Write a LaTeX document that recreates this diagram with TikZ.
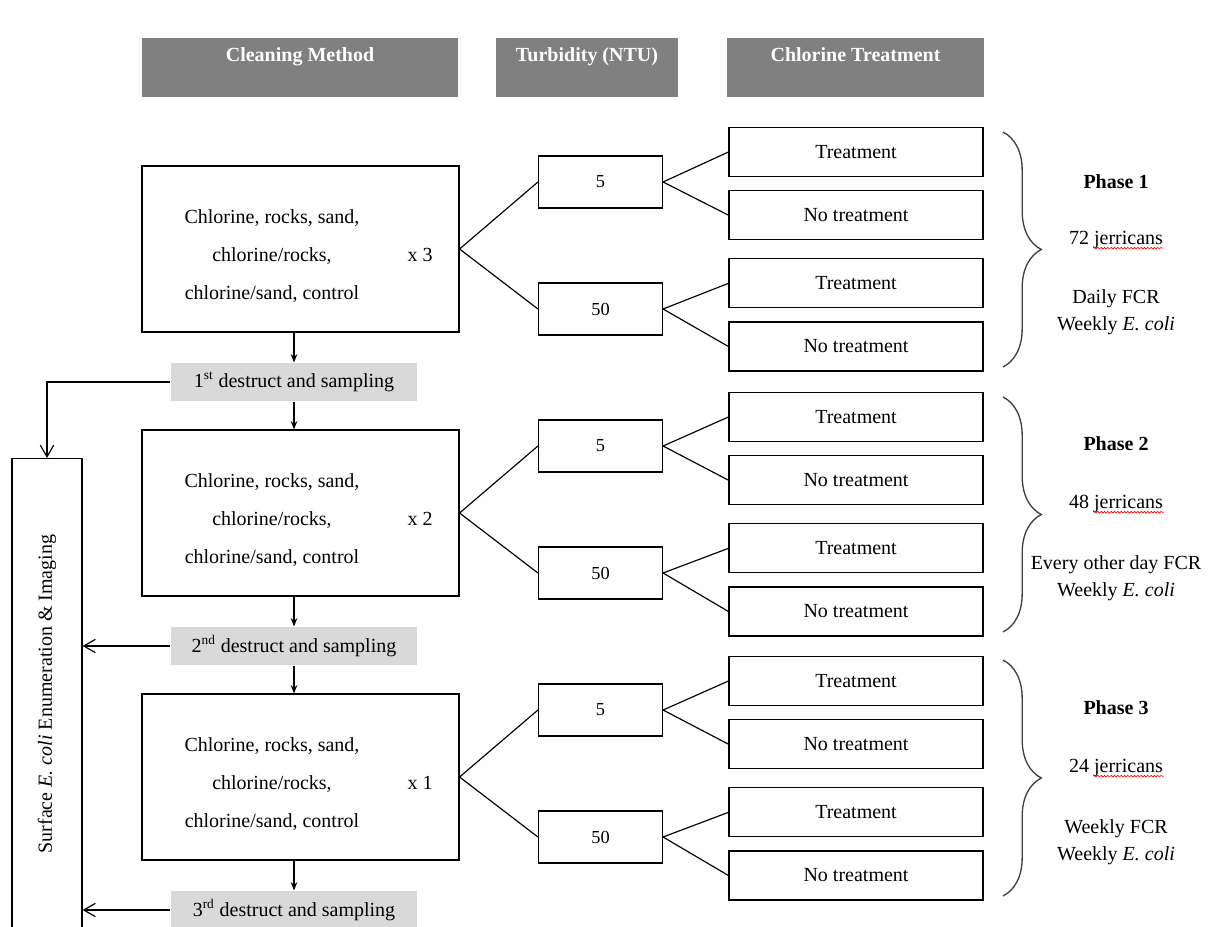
\documentclass[tikz,border=0pt]{standalone}
\usepackage{fontspec}
\setmainfont{Liberation Serif}
\usepackage{xcolor}
\usepackage{tikz}
\usetikzlibrary{positioning}
\usetikzlibrary{arrows.meta, decorations.pathreplacing, decorations.pathmorphing}
\definecolor{hdrgray}{RGB}{128,128,128}
\definecolor{destgray}{RGB}{217,217,217}
\tikzstyle{header} = [rectangle, fill=hdrgray, minimum height=35.4pt, inner sep=0pt]
\tikzstyle{headtext} = [text=white, text height=8.5pt, text depth=2.5pt, font=\fontsize{12}{14}\selectfont\bfseries]
\tikzstyle{method} = [rectangle, draw=black, minimum width=190.2pt, minimum height=99.6pt]
\tikzstyle{methodtext} = [align=center, font=\fontsize{12}{22.8}\selectfont]
\tikzstyle{turb} = [rectangle, draw=black, minimum width=74.4pt, minimum height=31.2pt, font=\fontsize{11}{13}\selectfont]
\tikzstyle{treat} = [rectangle, draw=black, minimum width=152.4pt, minimum height=29.4pt]
\tikzstyle{destruct} = [rectangle, fill=destgray, minimum width=147.6pt, minimum height=22.8pt]
\tikzstyle{phase} = [align=center, font=\fontsize{12}{16.2}\selectfont]
\tikzstyle{arrow} = [-{Stealth[length=5pt,width=4pt]}]
\tikzstyle{openarrow} = [-{Straight Barb[length=7pt,width=8pt]}]
\tikzstyle{bracket} = [decorate, decoration={brace, amplitude=23pt}, draw=black!75, line width=0.8pt]
\tikzstyle{spell} = [red, line width=0.4pt, decorate, decoration={snake, amplitude=0.5pt, segment length=2pt}]

\begin{document}
\begin{tikzpicture}[x=0.6pt, y=-0.6pt, line width=0.7pt, font=\fontsize{12}{14}\selectfont]
\useasboundingbox (0,0) rectangle (1224,926);
\clip (0,0) rectangle (1224,926);

% column headers
\node (h1) [header, minimum width=189.6pt] at (300,67.5) {};
\node (h2) [header, minimum width=109.2pt] at (587,67.5) {};
\node (h3) [header, minimum width=154.2pt] at (855.5,67.5) {};
\node (h1t) [headtext] at ([yshift=-11.4pt]h1.north) {Cleaning Method};
\node (h2t) [headtext] at ([yshift=-11.4pt]h2.north) {Turbidity (NTU)};
\node (h3t) [headtext] at ([yshift=-11.4pt]h3.north) {Chlorine Treatment};

% phase 1
\node (m1) [method] at (300.5,249) {};
\node (m1t) [methodtext] at (272,256) {Chlorine, rocks, sand,\\ chlorine/rocks,\\ chlorine/sand, control};
\node (m1x) at (420,255) {x 3};
\node (t1a) [turb] at (600.5,182) {5};
\node (t1b) [turb] at (600.5,309) {50};
\node (c1a) [treat] at (856,152) {Treatment};
\node (c1b) [treat, below=7.8pt of c1a] {No treatment};
\node (c1c) [treat, below=10.8pt of c1b] {Treatment};
\node (c1d) [treat, below=7.8pt of c1c] {No treatment};
\draw [bracket] (1003,132) -- (1003,367);
\node (p1) [phase] at (1116,182) {\textbf{Phase 1}};
\node (p1j) [phase] at (1116,240) {72 jerricans};
\node (p1f) [phase] at (1116,312) {Daily FCR\\ Weekly \textit{E. coli}};
\draw [spell] ([xshift=18.3pt, yshift=-2.2pt]p1j.base west) -- ([xshift=-3.3pt, yshift=-2.2pt]p1j.base east);

% phase 2
\node (m2) [method] at (300.5,513) {};
\node (m2t) [methodtext] at (272,520) {Chlorine, rocks, sand,\\ chlorine/rocks,\\ chlorine/sand, control};
\node (m2x) at (420,519) {x 2};
\node (t2a) [turb] at (600.5,446) {5};
\node (t2b) [turb] at (600.5,573) {50};
\node (c2a) [treat] at (856,417) {Treatment};
\node (c2b) [treat, below=7.8pt of c2a] {No treatment};
\node (c2c) [treat, below=10.8pt of c2b] {Treatment};
\node (c2d) [treat, below=7.8pt of c2c] {No treatment};
\draw [bracket] (1003,397) -- (1003,632);
\node (p2) [phase] at (1116,444) {\textbf{Phase 2}};
\node (p2j) [phase] at (1116,504) {48 jerricans};
\node (p2f) [phase] at (1116,578) {Every other day FCR\\ Weekly \textit{E. coli}};
\draw [spell] ([xshift=18.3pt, yshift=-2.2pt]p2j.base west) -- ([xshift=-3.3pt, yshift=-2.2pt]p2j.base east);

% phase 3
\node (m3) [method] at (300.5,777) {};
\node (m3t) [methodtext] at (272,784) {Chlorine, rocks, sand,\\ chlorine/rocks,\\ chlorine/sand, control};
\node (m3x) at (420,783) {x 1};
\node (t3a) [turb] at (600.5,710) {5};
\node (t3b) [turb] at (600.5,837) {50};
\node (c3a) [treat] at (856,681) {Treatment};
\node (c3b) [treat, below=7.8pt of c3a] {No treatment};
\node (c3c) [treat, below=10.8pt of c3b] {Treatment};
\node (c3d) [treat, below=7.8pt of c3c] {No treatment};
\draw [bracket] (1003,660) -- (1003,896);
\node (p3) [phase] at (1116,708) {\textbf{Phase 3}};
\node (p3j) [phase] at (1116,768) {24 jerricans};
\node (p3f) [phase] at (1116,842) {Weekly FCR\\ Weekly \textit{E. coli}};
\draw [spell] ([xshift=18.3pt, yshift=-2.2pt]p3j.base west) -- ([xshift=-3.3pt, yshift=-2.2pt]p3j.base east);

% destruct steps and surface box
\node (d1) [destruct] at (294,382) {1\textsuperscript{st} destruct and sampling};
\node (d2) [destruct] at (294,646) {2\textsuperscript{nd} destruct and sampling};
\node (d3) [destruct] at (294,910) {3\textsuperscript{rd} destruct and sampling};
\node (surf) [rectangle, draw=black, minimum width=42pt, minimum height=330pt, anchor=north] at (47,458) {};
\node (surft) [rotate=90] at (47,694) {Surface \textit{E. coli} Enumeration \& Imaging};

% connectors
\draw [arrow] (m1.south -| d1.north) -- (d1.north);
\draw [arrow] (d1.south) -- (d1.south |- m2.north);
\draw [arrow] (m2.south -| d2.north) -- (d2.north);
\draw [arrow] (d2.south) -- (d2.south |- m3.north);
\draw [arrow] (m3.south -| d3.north) -- (d3.north);
\draw [openarrow] (d1.west) -| (surf.north);
\draw [openarrow] (d2.west) -- (d2.west -| surf.east);
\draw [openarrow] (d3.west) -- (d3.west -| surf.east);

\draw (m1.east) -- (t1a.west);
\draw (m1.east) -- (t1b.west);
\draw (t1a.east) -- (c1a.west);
\draw (t1a.east) -- (c1b.west);
\draw (t1b.east) -- (c1c.west);
\draw (t1b.east) -- (c1d.west);
\draw (m2.east) -- (t2a.west);
\draw (m2.east) -- (t2b.west);
\draw (t2a.east) -- (c2a.west);
\draw (t2a.east) -- (c2b.west);
\draw (t2b.east) -- (c2c.west);
\draw (t2b.east) -- (c2d.west);
\draw (m3.east) -- (t3a.west);
\draw (m3.east) -- (t3b.west);
\draw (t3a.east) -- (c3a.west);
\draw (t3a.east) -- (c3b.west);
\draw (t3b.east) -- (c3c.west);
\draw (t3b.east) -- (c3d.west);
\end{tikzpicture}
\end{document}
